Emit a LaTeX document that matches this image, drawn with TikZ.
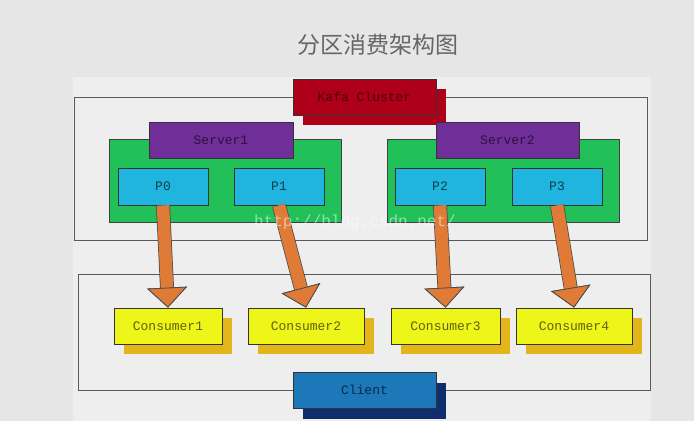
\documentclass[tikz,border=0pt]{standalone}
\usepackage{fontspec}
\setmonofont{Liberation Mono}
\newfontfamily\cjkfont{Noto Sans CJK SC}
\usetikzlibrary{shapes}
\usetikzlibrary{shadows}
\usetikzlibrary{arrows.meta}
\definecolor{bggray}{HTML}{E6E6E6}
\definecolor{panelgray}{HTML}{EEEEEE}
\definecolor{kafkared}{HTML}{AE0018}
\definecolor{serverpurple}{HTML}{702E99}
\definecolor{hostgreen}{HTML}{22C058}
\definecolor{partblue}{HTML}{1FB5DF}
\definecolor{consyellow}{HTML}{EDF618}
\definecolor{consgold}{HTML}{E4B51A}
\definecolor{clientblue}{HTML}{1C78B8}
\definecolor{clientnavy}{HTML}{102E6E}
\definecolor{arroworange}{HTML}{E07B37}
\tikzset{
    box/.style = {rectangle, draw=black!80, line width=0.8pt, inner sep=0pt, minimum height=36pt, font=\ttfamily\fontsize{13}{15}\selectfont},
    frame/.style = {rectangle, draw=black!65, line width=0.8pt, inner sep=0pt},
    redbox/.style = {box, fill=kafkared, text=kafkared!45!black, minimum width=143pt, drop shadow={shadow xshift=10pt, shadow yshift=-10pt, fill=kafkared, opacity=1}},
    serverbox/.style = {box, fill=serverpurple, text=serverpurple!40!black, minimum width=143pt},
    hostbox/.style = {rectangle, draw=black!75, line width=0.8pt, fill=hostgreen, minimum height=83pt, minimum width=232pt},
    partbox/.style = {box, fill=partblue, text=partblue!35!black, minimum width=90pt, minimum height=37pt},
    consbox/.style = {box, fill=consyellow, text=consyellow!40!black, drop shadow={shadow xshift=10pt, shadow yshift=-10pt, fill=consgold, opacity=1}},
    clientbox/.style = {box, fill=clientblue, text=clientblue!35!black, minimum width=143pt, drop shadow={shadow xshift=10pt, shadow yshift=-11pt, fill=clientnavy, opacity=1}},
    fatarrow/.style = {draw=arroworange, line width=12.5pt, -{Triangle[width=40pt, length=20pt, line width=0.8pt, color=black!70, fill=arroworange]}, preaction={draw=black!70, line width=14pt}}, % partition -> consumer
    headline/.style = {font=\cjkfont\fontsize{23}{26}\selectfont, text=black!60},
    watermarktext/.style = {font=\ttfamily\fontsize{16}{18}\selectfont, text=white, opacity=0.5}
}

\begin{document}
\begin{tikzpicture}[x=1pt, y=-1pt]
\useasboundingbox[fill=bggray] (0,0) rectangle (694,421);
\fill[panelgray] (73,77) rectangle (651,421);

\node[headline] at (378,45) (title) {分区消费架构图};

% cluster
\node[frame, minimum width=573pt, minimum height=143pt] at (360.5,168.5) (cluster) {};
\node[redbox] at (364.5,97) (kafka) {Kafa Cluster};
\node[hostbox] at (225.5,180.5) (host1) {};
\node[hostbox] at (503,180.5) (host2) {};
\node[serverbox, minimum width=144pt] at (221,140) (server1) {Server1};
\node[serverbox] at (507.5,140) (server2) {Server2};
\node[partbox] at (163,186.5) (p0) {P0};
\node[partbox] at (279,186.5) (p1) {P1};
\node[partbox] at (440,186.5) (p2) {P2};
\node[partbox] at (557,186.5) (p3) {P3};

% client
\node[frame, minimum width=572pt, minimum height=116pt] at (364,332) (client) {};
\node[consbox, minimum width=108pt] at (168,326) (c1) {Consumer1};
\node[consbox, minimum width=116pt] at (306,326) (c2) {Consumer2};
\node[consbox, minimum width=109pt] at (445.5,326) (c3) {Consumer3};
\node[consbox, minimum width=116pt] at (574,326) (c4) {Consumer4};
\node[clientbox] at (364.5,390) (clientname) {Client};
%
\draw[fatarrow] (p0.south) -- (c1.north);
\draw[fatarrow] (p1.south) -- (c2.north);
\draw[fatarrow] (p2.south) -- (c3.north);
\draw[fatarrow] (p3.south) -- (c4.north);

\node[watermarktext] at (355,222) (url) {http://blog.csdn.net/};

\end{tikzpicture}
\end{document}
